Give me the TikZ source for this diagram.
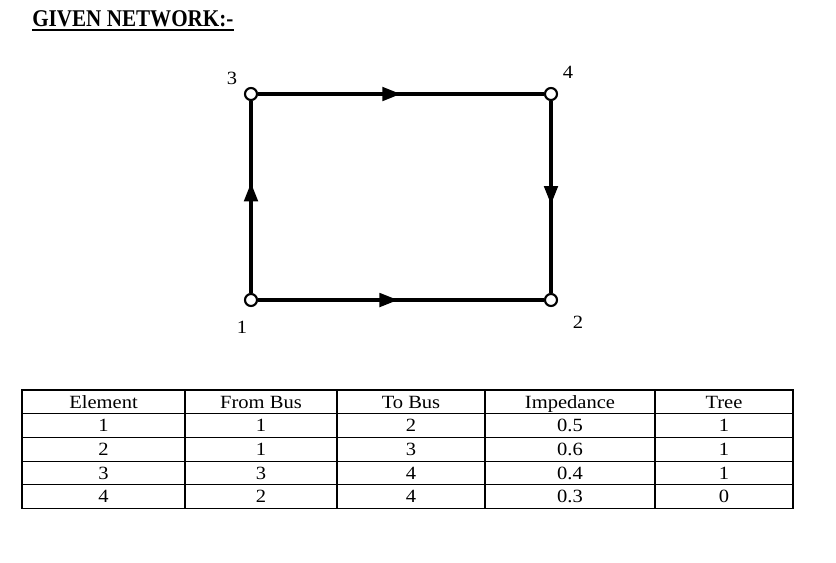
\documentclass[tikz,border=0pt]{standalone}
\usepackage{fontspec}
\setmainfont[FakeStretch=1.1]{Liberation Serif}
\newfontfamily\titlefont[FakeStretch=0.88]{Liberation Serif}
\usetikzlibrary{arrows.meta,decorations.markings}
\tikzset{
  bus/.style={circle, draw, fill=white, line width=1.6pt, minimum size=12*0.75pt, inner sep=0pt},
  buslabel/.style={font=\fontsize{14}{16}\selectfont, inner sep=0pt},
  cell/.style={font=\fontsize{14}{16}\selectfont, inner sep=0pt, anchor=base},
  edge/.style={line width=2.8pt},
  midarrow/.style={postaction={decorate}, decoration={markings,
     mark=at position #1 with {\arrow{Triangle[length=14pt,width=10pt]}}}},
  grid/.style={line width=0.8pt}
}
\begin{document}
\begin{tikzpicture}[x=0.75pt,y=-0.75pt]
\useasboundingbox (0,0) rectangle (836,562);
% title
\node[font=\titlefont\bfseries\fontsize{18}{21}\selectfont, inner sep=0pt, anchor=base west] (title) at (32,26) {GIVEN NETWORK:-};
\draw[line width=1.5pt] ([yshift=-3pt]title.base west) -- ([yshift=-3pt]title.base east);
% network
\node[bus] (n3) at (251,94) {};
\node[bus] (n4) at (551,94) {};
\node[bus] (n1) at (251,300) {};
\node[bus] (n2) at (551,300) {};
\node[buslabel] (l3) at (232,78) {3};
\node[buslabel] (l4) at (568,72) {4};
\node[buslabel] (l1) at (242,327) {1};
\node[buslabel] (l2) at (578,322) {2};
\draw[edge, midarrow=0.5] (n3) -- (n4);
\draw[edge, midarrow=0.49] (n1) -- (n2);
\draw[edge, midarrow=0.575] (n1) -- (n3);
\draw[edge, midarrow=0.54] (n4) -- (n2);
% table
\foreach \r/\a/\b/\c/\d/\e in {0/Element/From Bus/To Bus/Impedance/Tree,
   1/1/1/2/0.5/1, 2/2/1/3/0.6/1, 3/3/3/4/0.4/1, 4/4/2/4/0.3/0}{
  \pgfmathsetmacro{\yb}{390+23.7*\r+18}
  \node[cell] (t-\r-1) at (103.5,\yb) {\a};
  \node[cell] (t-\r-2) at (261,\yb) {\b};
  \node[cell] (t-\r-3) at (411,\yb) {\c};
  \node[cell] (t-\r-4) at (570,\yb) {\d};
  \node[cell] (t-\r-5) at (724,\yb) {\e};
}
\draw[grid] (22,390) rectangle (793,508.5);
\foreach \x in {185,337,485,655}{\draw[grid] (\x,390) -- (\x,508.5);}
\foreach \r in {1,2,3,4}{\draw[grid] (22,390+23.7*\r) -- (793,390+23.7*\r);}
\end{tikzpicture}
\end{document}
